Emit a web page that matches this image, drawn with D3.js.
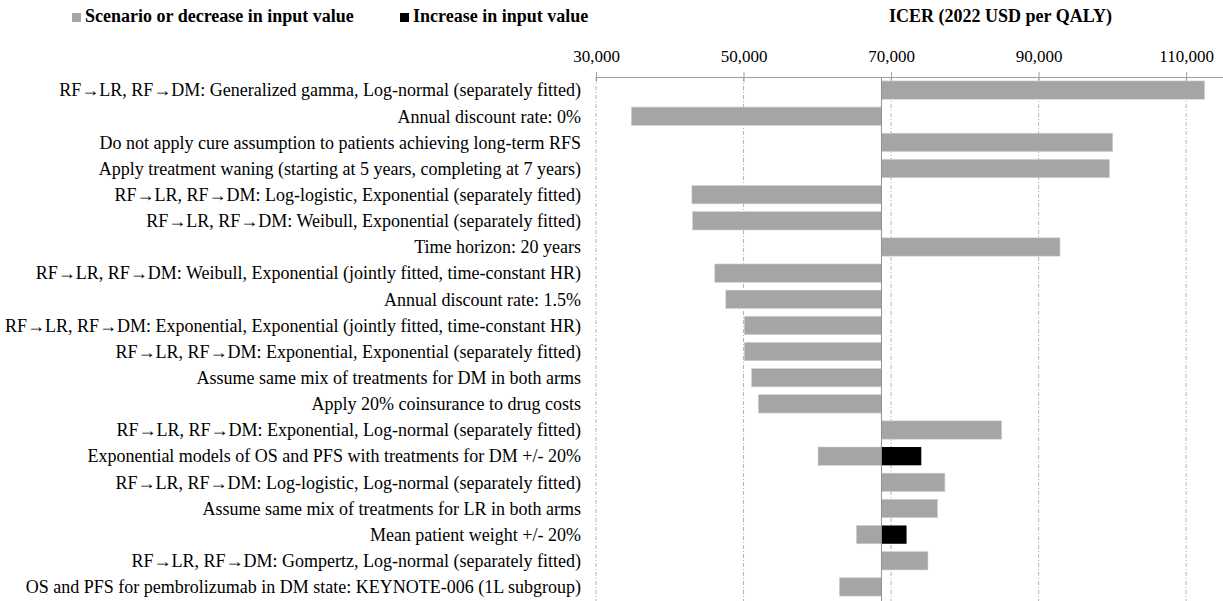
<!DOCTYPE html>
<html>
<head>
<meta charset="utf-8">
<script src="https://cdn.jsdelivr.net/npm/d3@7"></script>
<style>
  body { margin: 0; background: #fff; }
  text { font-family: "Liberation Serif", "Times New Roman", serif; }
</style>
</head>
<body>
<script>
// Define data
const labels = [
  "RF\u2192LR, RF\u2192DM: Generalized gamma, Log-normal (separately fitted)",
  "Annual discount rate: 0%",
  "Do not apply cure assumption to patients achieving long-term RFS",
  "Apply treatment waning (starting at 5 years, completing at 7 years)",
  "RF\u2192LR, RF\u2192DM: Log-logistic, Exponential (separately fitted)",
  "RF\u2192LR, RF\u2192DM: Weibull, Exponential (separately fitted)",
  "Time horizon: 20 years",
  "RF\u2192LR, RF\u2192DM: Weibull, Exponential (jointly fitted, time-constant HR)",
  "Annual discount rate: 1.5%",
  "RF\u2192LR, RF\u2192DM: Exponential, Exponential (jointly fitted, time-constant HR)",
  "RF\u2192LR, RF\u2192DM: Exponential, Exponential (separately fitted)",
  "Assume same mix of treatments for DM in both arms",
  "Apply 20% coinsurance to drug costs",
  "RF\u2192LR, RF\u2192DM: Exponential, Log-normal (separately fitted)",
  "Exponential models of OS and PFS with treatments for DM +/- 20%",
  "RF\u2192LR, RF\u2192DM: Log-logistic, Log-normal (separately fitted)",
  "Assume same mix of treatments for LR in both arms",
  "Mean patient weight +/- 20%",
  "RF\u2192LR, RF\u2192DM: Gompertz, Log-normal (separately fitted)",
  "OS and PFS for pembrolizumab in DM state: KEYNOTE-006 (1L subgroup)"
];
// ICER for scenario or decreased input value
const scenarioValues = [112500, 34800, 100050, 99600, 43000, 43100, 92900, 46100, 47600, 50100,
                        50100, 51100, 52000, 85000, 60100, 77300, 76300, 65300, 75000, 63000];
// ICER for increased input value (null where not applicable)
const increaseValues = [null, null, null, null, null, null, null, null, null, null,
                        null, null, null, null, 74100, null, null, 72100, null, null];
const baseICER = 68700;
const ticks = [30000, 50000, 70000, 90000, 110000];

const data = labels.map((l, i) => ({label: l, low: scenarioValues[i], high: increaseValues[i]}));

// Dimensions
const W = 1223, H = 601;
const margin = {top: 77, right: 0, bottom: 1, left: 596};

const svg = d3.select("body").append("svg")
    .attr("width", W)
    .attr("height", H);

const x = d3.scaleLinear()
    .domain([30000, 115000])
    .range([margin.left, 1223]);

const y = d3.scaleBand()
    .domain(labels)
    .range([margin.top, H - margin.bottom])
    .paddingInner(0.3)
    .paddingOuter(0.15);

// Gridlines (dashed)
svg.append("g")
  .selectAll("line")
  .data(ticks)
  .enter().append("line")
    .attr("x1", d => x(d)).attr("x2", d => x(d))
    .attr("y1", margin.top).attr("y2", H)
    .attr("stroke", "#b5b5b5")
    .attr("stroke-width", 1)
    .attr("stroke-dasharray", "4,2,1,2");

// Top axis
const axis = svg.append("g")
    .attr("transform", "translate(0," + margin.top + ")")
    .call(d3.axisTop(x).tickValues(ticks).tickFormat(d3.format(",")).tickSizeOuter(0).tickSize(5));
axis.select(".domain").attr("stroke", "#a0a0a0");
axis.selectAll(".tick line").attr("stroke", "#a0a0a0").attr("y2", 5).attr("y1", -5);
axis.selectAll(".tick text")
    .attr("y", -15)
    .style("font-size", "17px")
    .style("font-family", "Liberation Serif")
    .attr("fill", "#000");

// Bars: scenario or decrease
svg.append("g")
  .selectAll("rect")
  .data(data)
  .enter().append("rect")
    .attr("x", d => x(Math.min(d.low, baseICER)))
    .attr("y", d => y(d.label))
    .attr("width", d => Math.abs(x(d.low) - x(baseICER)))
    .attr("height", y.bandwidth())
    .attr("fill", "#a5a5a5")
    .attr("stroke", "#d0d0d0")
    .attr("stroke-width", 0.6);

// Bars: increase
svg.append("g")
  .selectAll("rect")
  .data(data.filter(d => d.high != null))
  .enter().append("rect")
    .attr("x", d => x(Math.min(d.high, baseICER)))
    .attr("y", d => y(d.label))
    .attr("width", d => Math.abs(x(d.high) - x(baseICER)))
    .attr("height", y.bandwidth())
    .attr("fill", "#000");

// Baseline (category axis at base ICER)
svg.append("line")
    .attr("x1", x(baseICER)).attr("x2", x(baseICER))
    .attr("y1", margin.top).attr("y2", H)
    .attr("stroke", "#909090")
    .attr("stroke-width", 1);

// Category labels
svg.append("g")
  .selectAll("text")
  .data(data)
  .enter().append("text")
    .attr("x", 581)
    .attr("y", d => y(d.label) + y.bandwidth() / 2)
    .attr("dy", "0.35em")
    .attr("text-anchor", "end")
    .style("font-size", "18px")
    .text(d => d.label);

// Legend
const legend = [
  {name: "Scenario or decrease in input value", color: "#a5a5a5", x: 72},
  {name: "Increase in input value", color: "#000", x: 400}
];
const lg = svg.append("g").selectAll("g")
  .data(legend)
  .enter().append("g")
    .attr("transform", d => "translate(" + d.x + ",0)");
lg.append("rect")
    .attr("y", 13).attr("width", 9).attr("height", 9)
    .attr("fill", d => d.color);
lg.append("text")
    .attr("x", 13).attr("y", 22)
    .style("font-size", "18px")
    .style("font-weight", "bold")
    .text(d => d.name);

// Axis title
svg.append("text")
    .attr("x", 889)
    .attr("y", 22)
    .style("font-size", "18px")
    .style("font-weight", "bold")
    .text("ICER (2022 USD per QALY)");
</script>
</body>
</html>
